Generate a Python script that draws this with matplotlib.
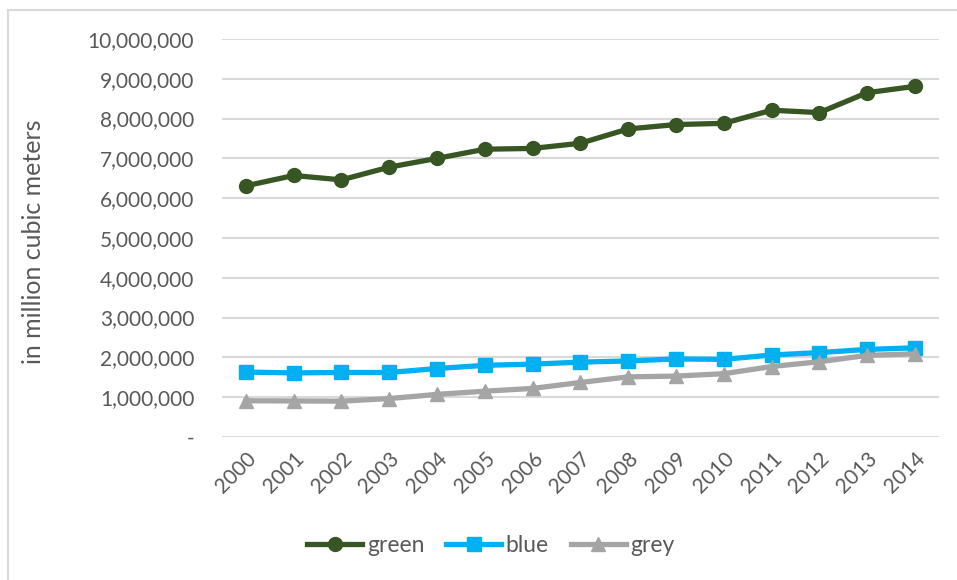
import matplotlib
matplotlib.use('Agg')
import matplotlib.pyplot as plt
from matplotlib.patches import Rectangle
from matplotlib.ticker import FuncFormatter

years = [str(y) for y in range(2000, 2015)]
green = [6310000, 6570000, 6460000, 6780000, 7000000, 7230000, 7250000, 7380000,
         7740000, 7850000, 7880000, 8210000, 8150000, 8650000, 8810000]
blue = [1630000, 1610000, 1620000, 1620000, 1720000, 1800000, 1830000, 1880000,
        1910000, 1960000, 1950000, 2060000, 2120000, 2200000, 2240000]
grey = [910000, 905000, 900000, 965000, 1070000, 1150000, 1220000, 1370000,
        1510000, 1530000, 1590000, 1770000, 1890000, 2050000, 2090000]

plt.rcParams['font.family'] = ['Lato', 'DejaVu Sans']
txt = '#595959'

fig = plt.figure(figsize=(9.57, 5.8), dpi=100)
ax = fig.add_axes([0.232, 0.2466, 0.749, 0.6862])

# Rahmen um das Diagramm
fig.patches.append(Rectangle((8 / 957, -0.1), 1.2, 1 - 10 / 580 + 0.1,
                             transform=fig.transFigure, fill=False,
                             edgecolor='#d9d9d9', linewidth=1.5))

x = range(len(years))
ax.plot(x, green, color='#375623', lw=3.8, marker='o', ms=10, label='green')
ax.plot(x, blue, color='#00b0f0', lw=3.8, marker='s', ms=10, label='blue')
ax.plot(x, grey, color='#a5a5a5', lw=3.8, marker='^', ms=10, label='grey')

ax.set_xlim(-0.5, len(years) - 0.5)
ax.set_ylim(0, 10000000)
ax.set_yticks(range(0, 10000001, 1000000))
ax.yaxis.set_major_formatter(FuncFormatter(lambda v, p: '-' if v == 0 else f'{int(v):,}'))
ax.set_xticks(list(x))
ax.set_xticklabels(years, rotation=45, ha='right', va='top', rotation_mode='anchor')
ax.grid(axis='y', color='#d9d9d9', lw=1.5)
ax.set_axisbelow(True)
for s in ax.spines.values():
    s.set_visible(False)
ax.tick_params(length=0, colors=txt, labelsize=15)
ax.tick_params(axis='y', pad=20)
ax.tick_params(axis='x', pad=8)
ax.set_ylabel('in million cubic meters', color=txt, fontsize=18)
ax.yaxis.set_label_coords(-0.247, 0.49)

ax.legend(loc='center', bbox_to_anchor=(491 / 957, 1 - 546 / 580),
          bbox_transform=fig.transFigure, ncol=3, frameon=False,
          fontsize=16.5, labelcolor=txt, handlelength=2.4, columnspacing=0.95,
          handletextpad=0.2)

fig.savefig('out.png', dpi=100)
